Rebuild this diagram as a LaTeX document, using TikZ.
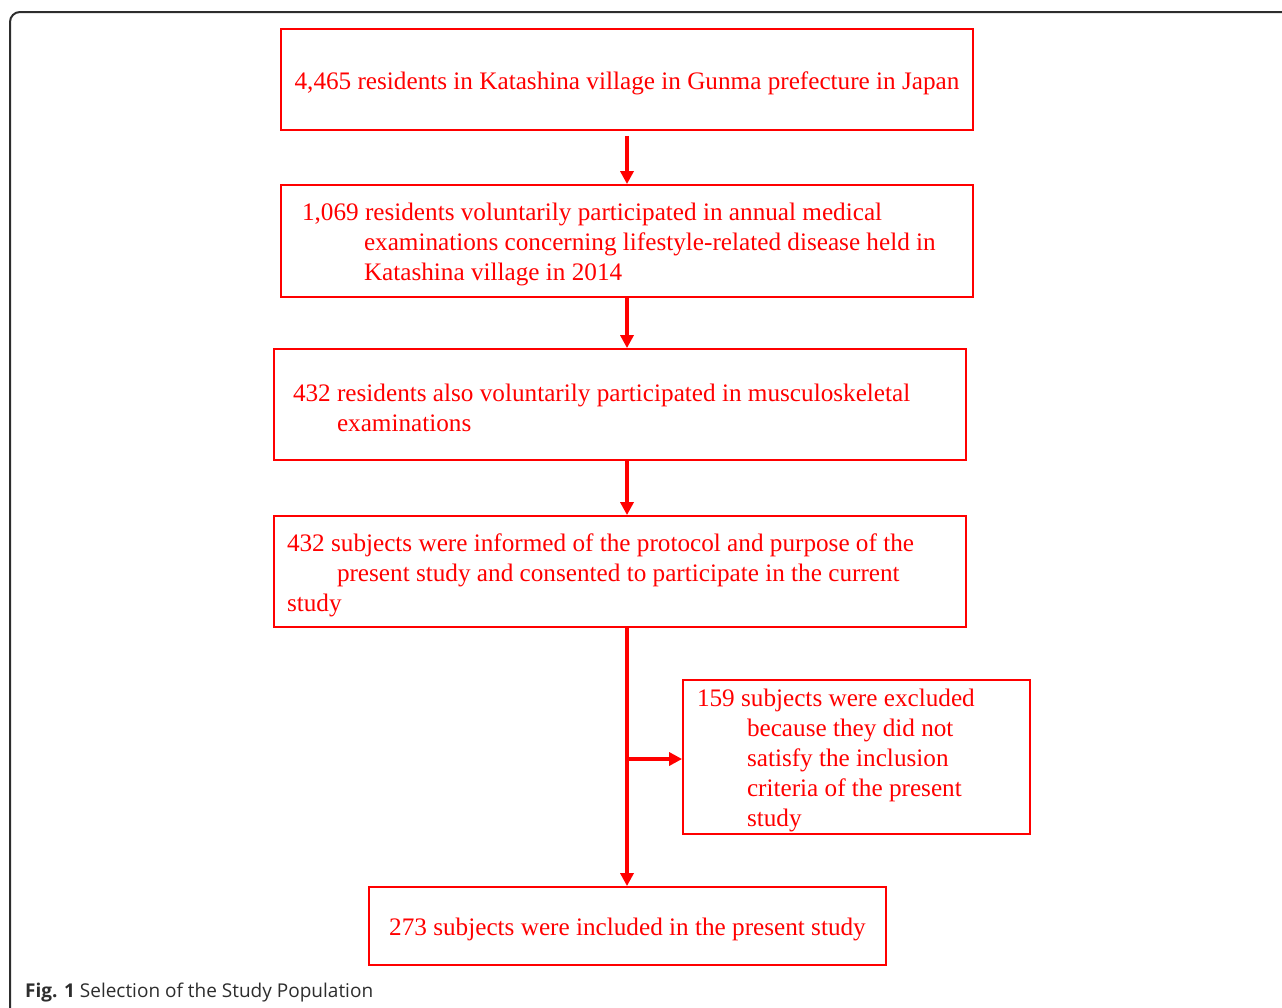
\documentclass[tikz,border=0pt]{standalone}
\usepackage{fontspec}
\setmainfont{Liberation Serif}
\newfontfamily\capfont{Open Sans}
\usetikzlibrary{arrows.meta,positioning}
\definecolor{flowred}{RGB}{255,0,0}
\definecolor{framegray}{RGB}{45,45,45}

\begin{document}
\begin{tikzpicture}[x=1pt,y=-1pt,
	box/.style={draw=flowred, line width=1.8pt, text=flowred, align=flush left, inner ysep=0pt,
		font=\fontsize{25.2}{30}\selectfont, execute at begin node={\rule{0pt}{25pt}}},
	flow/.style={draw=flowred, line width=3.2pt, -{Triangle[length=13pt,width=13pt]}}]
	
	\useasboundingbox (0,0) rectangle (1282,1007);
	\draw[framegray, line width=2pt, rounded corners=10pt] (10,1030) -- (10,12) -- (1300,12);
	
	\node[box, align=flush center, text width=668pt, inner xsep=12pt, minimum height=101pt] (residents) at (627,79.5)
		{4,465 residents in Katashina village in Gunma prefecture in Japan};
	\node[box, text width=650pt, inner xsep=21pt, minimum height=112pt] (examined) at (627,241)
		{1,069 residents voluntarily participated in annual medical\\
		\hspace*{62pt}examinations concerning lifestyle-related disease held in\\
		\hspace*{62pt}Katashina village in 2014};
	\node[box, text width=654pt, inner xsep=19pt, minimum height=111pt] (musculo) at (620,404.5)
		{432 residents also voluntarily participated in musculoskeletal\\
		\hspace*{44pt}examinations};
	\node[box, text width=666pt, inner xsep=13pt, minimum height=111pt] (consented) at (620,571.5)
		{432 subjects were informed of the protocol and purpose of the\\
		\hspace*{50pt}present study and consented to participate in the current\\
		study};
	\node[box, text width=319pt, inner xsep=14pt, minimum height=154pt] (excluded) at (856.5,757)
		{159 subjects were excluded\\
		\hspace*{50pt}because they did not\\
		\hspace*{50pt}satisfy the inclusion\\
		\hspace*{50pt}criteria of the present\\
		\hspace*{50pt}study};
	\node[box, align=flush center, text width=497pt, inner xsep=10pt, minimum height=78pt] (included) at (627.5,926)
		{273 subjects were included in the present study};
	
	\coordinate (branch) at (627,759);
	
	\draw[flow, shorten <=5pt] (residents.south) -- (examined.north);
	\draw[flow] (examined.south) -- (examined.south |- musculo.north);
	\draw[flow] (musculo.south -| examined.south) -- (consented.north -| examined.south);
	\draw[flow] (consented.south -| branch) -- (included.north -| branch);
	\draw[flow] (branch) -- (branch -| excluded.west);
	
	\node[anchor=base west, inner sep=0pt, text=framegray, font=\capfont\fontsize{19}{22}\selectfont] (caption) at (25,997)
		{\textbf{Fig. 1} Selection of the Study Population};
\end{tikzpicture}
\end{document}
